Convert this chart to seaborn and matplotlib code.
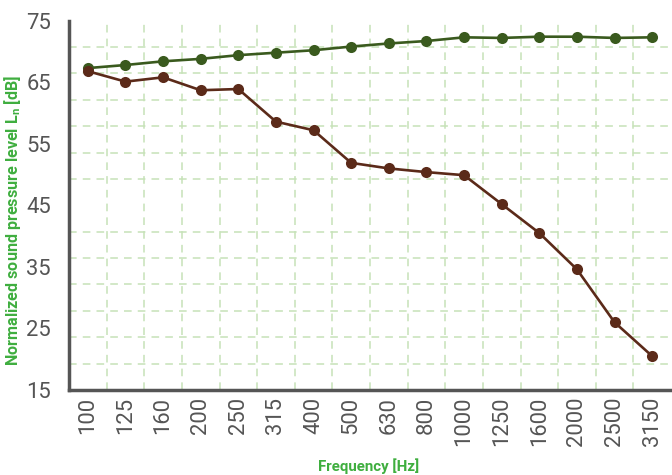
import numpy as np
import pandas as pd
import matplotlib
matplotlib.use("Agg")
import matplotlib.pyplot as plt
import seaborn as sns

freqs = ["100", "125", "160", "200", "250", "315", "400", "500", "630", "800",
         "1000", "1250", "1600", "2000", "2500", "3150"]
upper = [67.3, 67.8, 68.4, 68.8, 69.4, 69.8, 70.2, 70.8, 71.3, 71.7,
         72.3, 72.2, 72.4, 72.4, 72.2, 72.3]
lower = [66.8, 65.1, 65.8, 63.7, 63.9, 58.6, 57.2, 51.9, 51.0, 50.4,
         49.9, 45.2, 40.5, 34.6, 26.0, 20.5]
y_ticks = [15, 25, 35, 45, 55, 65, 75]

sns.set_theme(style="white")
plt.rcParams['font.family'] = ['Roboto', 'DejaVu Sans']

df = pd.DataFrame({"pos": np.arange(len(freqs)), "freq": freqs,
                   "upper": upper, "lower": lower})

fig = plt.figure(figsize=(6.72, 4.75), dpi=100)
ax = fig.add_axes([69/672, 1 - 390/475, (671 - 69)/672, (390 - 20.7)/475])

grid_col = "#c6e2b8"
sns.lineplot(data=df, x="pos", y="upper", ax=ax, color="#3a5a1e", lw=1.9,
             marker="o", markersize=8, markeredgewidth=0, zorder=3)
sns.lineplot(data=df, x="pos", y="lower", ax=ax, color="#5b2a19", lw=1.9,
             marker="o", markersize=8, markeredgewidth=0, zorder=4)

ax.set_xlim(-0.5, len(freqs) - 0.5)
ax.set_ylim(15, 75)

ax.set_xticks(np.arange(len(freqs)))
ax.set_xticklabels(freqs, rotation=90)
ax.set_yticks(y_ticks)
ax.set_xticks(np.arange(len(freqs) - 1) + 0.5, minor=True)
ax.set_yticks(np.linspace(15, 75, 15), minor=True)

ax.grid(False)
ax.grid(True, which="minor", color=grid_col, linestyle=(0, (5, 4)), lw=1.1)
ax.tick_params(axis="both", which="major", length=0, labelsize=15.8,
               labelcolor="#555555")
ax.tick_params(axis="y", which="major", pad=13)
ax.tick_params(axis="x", which="major", pad=5)
ax.tick_params(axis="both", which="minor", length=5, color=grid_col, width=1.1)

for s in ["top", "right"]:
    ax.spines[s].set_visible(False)
for s in ["left", "bottom"]:
    ax.spines[s].set_color("#555555")
    ax.spines[s].set_linewidth(2.5)

title_col = "#3fae3f"
ax.set_xlabel("Frequency [Hz]", fontsize=10.8, fontweight="bold",
              color=title_col)
ax.set_ylabel(r"Normalized sound pressure level L$_\mathregular{n}$ [dB]",
              fontsize=11.6, fontweight="bold", color=title_col)
ax.xaxis.set_label_coords(0.497, -0.185)
ax.yaxis.set_label_coords(-0.076, 0.46)

fig.savefig("out.png", dpi=100)
